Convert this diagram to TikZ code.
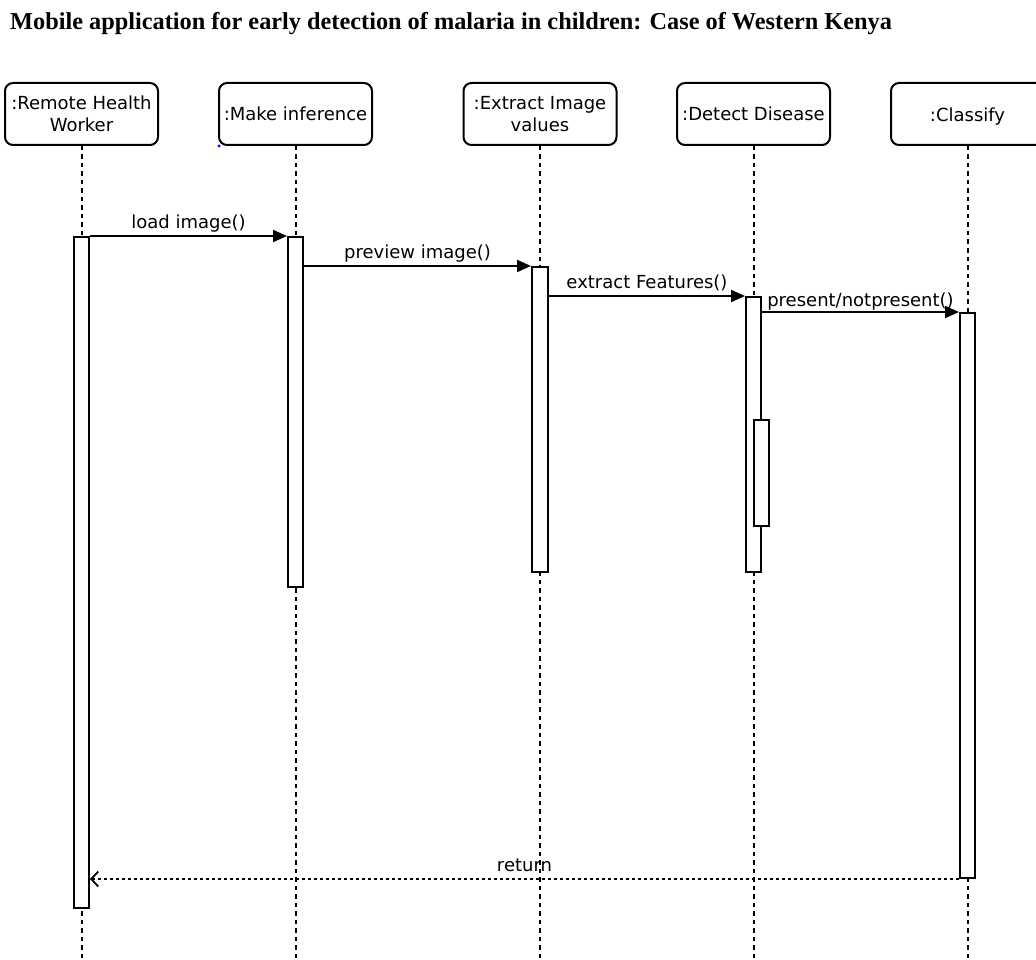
\documentclass[tikz,border=0pt]{standalone}
\usepackage{fontspec}
\newfontfamily\dv{DejaVu Sans}
\newfontfamily\tms{Liberation Serif}
\usetikzlibrary{arrows.meta}
\begin{document}
\begin{tikzpicture}[x=1pt,y=-1pt,
  obj/.style={draw, line width=2pt, rounded corners=8pt, minimum width=153pt, minimum height=62pt,
    inner sep=0pt, align=center, font=\dv\fontsize{18}{22}\selectfont},
  act/.style={draw, fill=white, line width=2pt, minimum width=15pt, inner sep=0pt},
  life/.style={line width=2pt, dash pattern=on 4.5pt off 4pt},
  msg/.style={line width=2pt, -{Triangle[length=14pt,width=12pt]}},
  ret/.style={line width=2pt, dash pattern=on 3pt off 3pt, -{Straight Barb[length=7pt,width=15pt,line width=1.8pt]}},
  lbl/.style={font=\dv\fontsize{18}{22}\selectfont, above, inner sep=3pt}]
\useasboundingbox (0,0) rectangle (1036,960);
\node[anchor=base west, font=\tms\bfseries\fontsize{24.3}{28}\selectfont, inner sep=0pt] (title) at (10,30)
  {Mobile application for early detection of malaria in children: Case of Western Kenya};
% objects
\node[obj] (o1) at (81.5,114) {:Remote Health\\Worker};
\node[obj] (o2) at (295.5,114) {:Make inference};
\node[obj] (o3) at (540,114) {:Extract Image\\values};
\node[obj] (o4) at (753.5,114) {:Detect Disease};
\node[obj] (o5) at (967.5,114) {\raisebox{0pt}[16pt][0pt]{:Classify}};
\fill[blue] (219,146) circle (1.6pt);
% lifelines
\foreach \i/\x in {1/81.5,2/295.5,3/540,4/753.5,5/967.5}{
  \coordinate (e\i) at (\x,962);
  \draw[life] (o\i.south) -- (e\i);
}
% activations
\node[act, minimum height=671pt] (a1) at (81.5,572.5) {};
\node[act, minimum height=350pt] (a2) at (295.5,412) {};
\node[act, minimum height=305pt, minimum width=16pt] (a3) at (540,419.5) {};
\node[act, minimum height=275pt] (a4) at (753.5,434.5) {};
\node[act, minimum height=106pt] (a4b) at (761.5,473) {};
\node[act, minimum height=565pt] (a5) at (967.5,595.5) {};
% messages
\draw[msg] (a1.north east) -- node[lbl] {load image()} (a2.north west);
\draw[msg] (a2.east |- a3.north) -- node[lbl] {preview image()} (a3.north west);
\draw[msg] (a3.east |- a4.north) -- node[lbl, inner sep=4pt] {extract Features()} (a4.north west);
\draw[msg] (a4.east |- a5.north) -- node[lbl, inner sep=1pt] {present/notpresent()} (a5.north west);
\draw[ret] (a5.south west) -- node[lbl, inner sep=6pt] {return} (a1.east |- a5.south);
\end{tikzpicture}
\end{document}
